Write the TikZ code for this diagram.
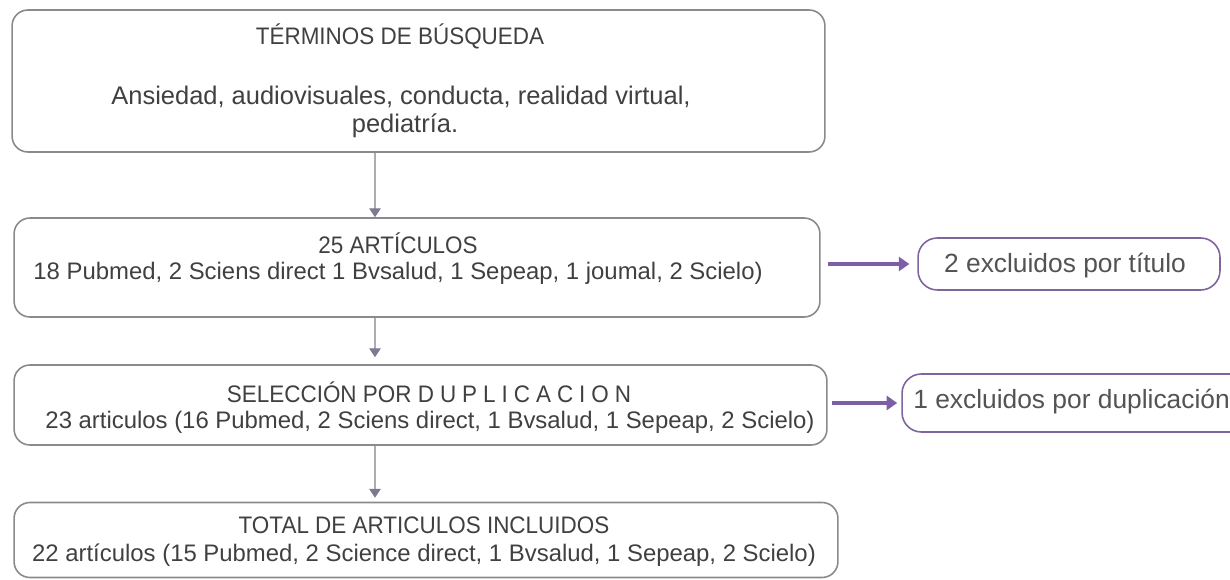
\documentclass[tikz,border=0pt]{standalone}
\usepackage{fontspec}
\setmainfont{Liberation Sans}
\newfontfamily\titlefont{Liberation Sans}[FakeStretch=0.94]
\usepackage{tikz}
\tikzset{>=latex}
\usetikzlibrary{arrows.meta,positioning}
\definecolor{boxgray}{HTML}{8A8A8A}
\definecolor{txtgray}{HTML}{404040}
\definecolor{tipgray}{HTML}{7C7A8E}
\definecolor{exclpurple}{HTML}{7E5FA6}
\tikzset{
  mainbox/.style={draw=boxgray, line width=0.9pt, rounded corners=9pt, inner sep=0pt},
  sidebox/.style={draw=exclpurple!80!gray, line width=0.9pt, rounded corners=11pt, inner sep=0pt},
  txt/.style={text=txtgray, inner sep=0pt, font=\fontsize{13.6}{16}\selectfont},
  titletxt/.style={text=txtgray, inner sep=0pt, font=\titlefont\fontsize{13.6}{16}\selectfont},
  sidetxt/.style={text=txtgray!90, inner sep=0pt, font=\fontsize{15}{17}\selectfont},
  conn/.style={draw=boxgray!70, line width=0.6pt, -{Triangle[length=5pt,width=6.5pt,fill=tipgray,color=tipgray]}},
  exclarrow/.style={draw=exclpurple, line width=2.3pt, -{Triangle[length=6pt,width=8pt]}}
}
\begin{document}
\begin{tikzpicture}[x=0.02cm,y=-0.02cm]
  \useasboundingbox (0,0) rectangle (1230,580);
  % main boxes
  \node[mainbox, minimum width=16.26cm, minimum height=2.84cm] (terms) at (418.5,81) {};
  \node[mainbox, minimum width=16.12cm, minimum height=1.98cm] (arts) at (417,267.5) {};
  \node[mainbox, minimum width=16.26cm, minimum height=1.6cm] (dup) at (420.5,405) {};
  \node[mainbox, minimum width=16.48cm, minimum height=1.5cm] (total) at (426,540) {};
  % excluded boxes
  \node[sidebox, minimum width=6.04cm, minimum height=1.04cm] (excl1) at (1069,264) {};
  \node[sidebox, minimum width=6.96cm, minimum height=1.16cm] (excl2) at (1076,403) {};
  % texts
  \node[titletxt] (termstitle) at (400,36) {TÉRMINOS DE BÚSQUEDA};
  \node[txt, font=\fontsize{14.5}{17}\selectfont] (termsline1) at (401,97) {Ansiedad, audiovisuales, conducta, realidad virtual,};
  \node[txt, font=\fontsize{14.5}{17}\selectfont] (termsline2) at (405,126) {pediatría.};
  \node[titletxt] (artstitle) at (398,243) {25 ARTÍCULOS};
  \node[txt] (artsline) at (398,273) {18 Pubmed, 2 Sciens direct 1 Bvsalud, 1 Sepeap, 1 joumal, 2 Scielo)};
  \node[titletxt] (duptitle) at (429,392) {SELECCIÓN POR {\addfontfeature{LetterSpace=25}DUPLICACION}};
  \node[txt] (dupline) at (430,422) {23 articulos (16 Pubmed, 2 Sciens direct, 1 Bvsalud, 1 Sepeap, 2 Scielo)};
  \node[titletxt] (totaltitle) at (424,525) {TOTAL DE ARTICULOS INCLUIDOS};
  \node[txt] (totalline) at (424,555) {22 artículos (15 Pubmed, 2 Science direct, 1 Bvsalud, 1 Sepeap, 2 Scielo)};
  \node[sidetxt] (excl1txt) at (1065,266) {2 excluidos por título};
  \node[sidetxt, anchor=west] (excl2txt) at (913,402) {1 excluidos por duplicación};
  % connectors
  \coordinate (axis) at (375,0);
  \draw[conn] (terms.south -| axis) -- (arts.north -| axis);
  \draw[conn, shorten >=4pt] (arts.south -| axis) -- (dup.north -| axis);
  \draw[conn, shorten >=2.3pt] (dup.south -| axis) -- (total.north -| axis);
  \draw[exclarrow, shorten <=4pt, shorten >=4.5pt] (arts.east |- excl1.west) -- (excl1.west);
  \draw[exclarrow, shorten <=2.3pt, shorten >=2.3pt] (dup.east |- excl2.west) -- (excl2.west);
\end{tikzpicture}
\end{document}
